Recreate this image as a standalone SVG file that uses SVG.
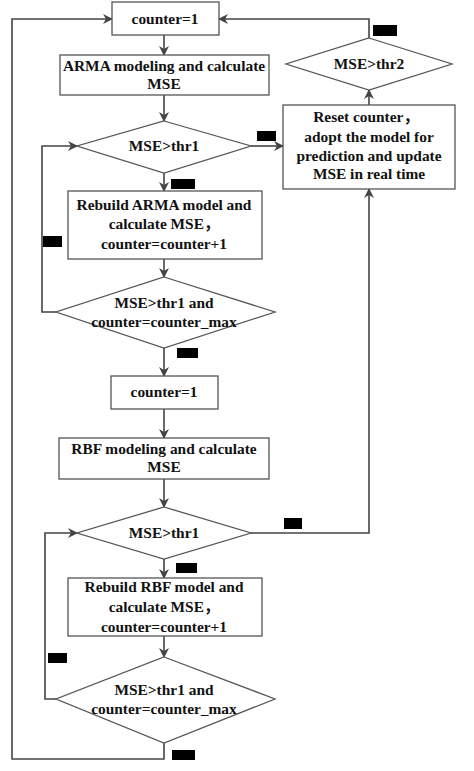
<svg xmlns="http://www.w3.org/2000/svg" width="474" height="771" viewBox="0 0 474 771">
<defs>
<marker id="ah" markerWidth="10" markerHeight="10" refX="9" refY="5" orient="auto" markerUnits="userSpaceOnUse">
<path d="M0,0 L10,5 L0,10 L3,5 z" fill="#444"/>
</marker>
</defs>
<style>
.n{fill:#fff;stroke:#555;stroke-width:1.3}
.t{font-family:"Liberation Serif","Times New Roman","DejaVu Serif",serif;font-weight:bold;font-size:15.4px;fill:#111;text-anchor:middle}
.cj{font-family:"Noto Sans CJK SC",sans-serif}
.c{fill:none;stroke:#444;stroke-width:1.6}
.lb{fill:#000}
</style>
<rect width="474" height="771" fill="#fff"/>
<g id="connectors">
<path class="c" d="M164,35 V55" marker-end="url(#ah)"/>
<path class="c" d="M164,95 V121" marker-end="url(#ah)"/>
<path class="c" d="M251,146 H283" marker-end="url(#ah)"/>
<path class="c" d="M164,173 V191" marker-end="url(#ah)"/>
<path class="c" d="M164,259 V277" marker-end="url(#ah)"/>
<path class="c" d="M56,312 H42 V146 H77" marker-end="url(#ah)"/>
<path class="c" d="M164,348 V376" marker-end="url(#ah)"/>
<path class="c" d="M164,409 V438" marker-end="url(#ah)"/>
<path class="c" d="M164,479 V507" marker-end="url(#ah)"/>
<path class="c" d="M164,559 V578" marker-end="url(#ah)"/>
<path class="c" d="M164,636 V657" marker-end="url(#ah)"/>
<path class="c" d="M56,699 H45 V533 H77" marker-end="url(#ah)"/>
<path class="c" d="M251,533 H369 V189" marker-end="url(#ah)"/>
<path class="c" d="M369,105 V90" marker-end="url(#ah)"/>
<path class="c" d="M369,38 V19 H219" marker-end="url(#ah)"/>
<path class="c" d="M164,743 V759 H12 V19 H112" marker-end="url(#ah)"/>
<rect class="lb" x="373" y="25" width="24" height="11"/>
<rect class="lb" x="257" y="131" width="19" height="10"/>
<rect class="lb" x="171" y="179" width="24" height="10"/>
<rect class="lb" x="43" y="236" width="19" height="11"/>
<rect class="lb" x="177" y="348" width="21" height="10"/>
<rect class="lb" x="284" y="518" width="18" height="11"/>
<rect class="lb" x="176" y="563" width="21" height="10"/>
<rect class="lb" x="48" y="653" width="19" height="10"/>
<rect class="lb" x="172" y="750" width="23" height="10"/>
</g>
<g id="n1"><rect class="n" x="112" y="2" width="107" height="33"/><text class="t" x="165" y="24">counter=1</text></g>
<g id="n2"><rect class="n" x="60" y="55" width="209" height="40"/><text class="t" x="164" y="71">ARMA modeling and calculate</text><text class="t" x="164" y="89">MSE</text></g>
<g id="n3"><polygon class="n" points="164,121 251,146 164,173 77,146"/><text class="t" x="164" y="151">MSE&gt;thr1</text></g>
<g id="n4"><rect class="n" x="68" y="191" width="194" height="68"/><text class="t" x="164" y="210">Rebuild ARMA model and</text><text class="t" x="164" y="229">calculate MSE<tspan class="cj">，</tspan></text><text class="t" x="164" y="249">counter=counter+1</text></g>
<g id="n5"><polygon class="n" points="164,277 275,312 164,348 56,312"/><text class="t" x="164" y="308">MSE&gt;thr1 and</text><text class="t" x="164" y="327">counter=counter_max</text></g>
<g id="n6"><rect class="n" x="111" y="376" width="107" height="33"/><text class="t" x="164" y="397">counter=1</text></g>
<g id="n7"><rect class="n" x="59" y="438" width="210" height="41"/><text class="t" x="164" y="454">RBF modeling and calculate</text><text class="t" x="164" y="472">MSE</text></g>
<g id="n8"><polygon class="n" points="164,507 251,533 164,559 77,533"/><text class="t" x="164" y="538">MSE&gt;thr1</text></g>
<g id="n9"><rect class="n" x="68" y="578" width="194" height="58"/><text class="t" x="164" y="592">Rebuild RBF model and</text><text class="t" x="164" y="612">calculate MSE<tspan class="cj">，</tspan></text><text class="t" x="164" y="632">counter=counter+1</text></g>
<g id="n10"><polygon class="n" points="164,657 275,699 164,743 56,699"/><text class="t" x="164" y="695">MSE&gt;thr1 and</text><text class="t" x="164" y="714">counter=counter_max</text></g>
<g id="n11"><rect class="n" x="283" y="105" width="172" height="84"/><text class="t" x="366" y="122">Reset counter<tspan class="cj">，</tspan></text><text class="t" x="369" y="142">adopt the model for</text><text class="t" x="369" y="161">prediction and update</text><text class="t" x="369" y="179">MSE in real time</text></g>
<g id="n12"><polygon class="n" points="369,38 452,64 369,90 286,64"/><text class="t" x="369" y="69">MSE&gt;thr2</text></g>
</svg>
